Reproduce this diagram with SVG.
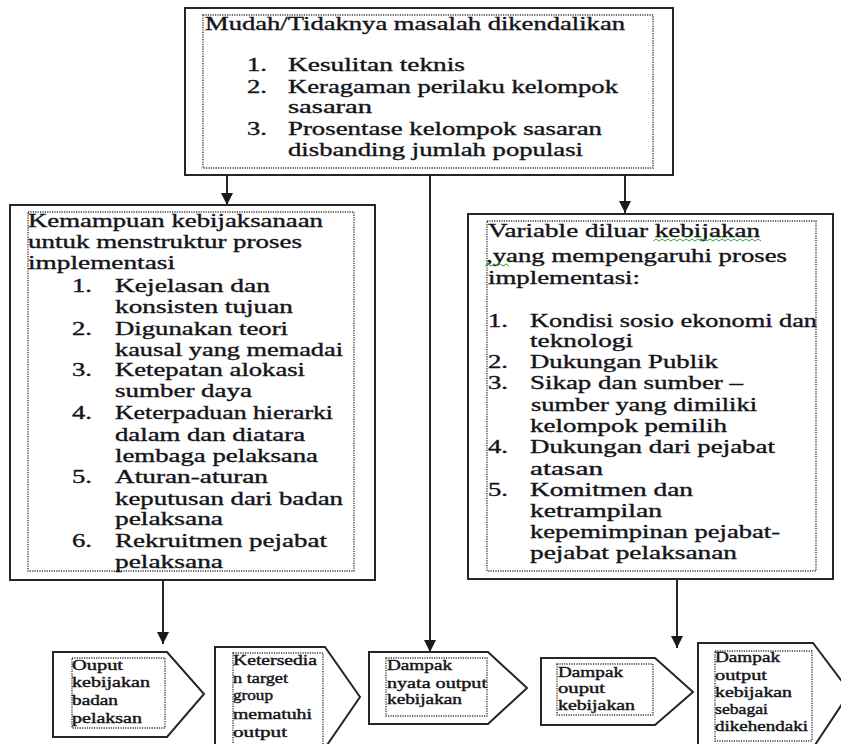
<svg xmlns="http://www.w3.org/2000/svg" width="841" height="744" viewBox="0 0 841 744">
<style>
.box{fill:#fff;stroke:#262626;stroke-width:2}
.dot{fill:none;stroke:#3a3a3a;stroke-width:1.4;stroke-dasharray:1.2 1.2}
.t{font-family:"Liberation Serif","Times New Roman",serif;font-size:18px;fill:#141418;stroke:#141418;stroke-width:0.35}
.s{font-family:"Liberation Serif","Times New Roman",serif;font-size:14px;fill:#141418;stroke:#141418;stroke-width:0.4}
.ln{stroke:#262626;stroke-width:2;fill:none}
.wavy{stroke:#3aa83a;stroke-width:1;fill:none}
</style>
<defs>
<marker id="ah" markerUnits="userSpaceOnUse" markerWidth="13" markerHeight="12" refX="12" refY="6" orient="auto">
<path d="M0,0 L12,6 L0,12 z" fill="#1a1a1a"/>
</marker>
</defs>
<rect width="841" height="744" fill="#fff"/>

<g id="connectors">
<line class="ln" x1="227" y1="175" x2="227" y2="205" marker-end="url(#ah)"/>
<line class="ln" x1="430" y1="175" x2="430" y2="652" stroke-width="2.6" marker-end="url(#ah)"/>
<line class="ln" x1="625" y1="175" x2="625" y2="213" marker-end="url(#ah)"/>
<line class="ln" x1="163" y1="580" x2="163" y2="644" marker-end="url(#ah)"/>
<line class="ln" x1="677" y1="579" x2="677" y2="648" marker-end="url(#ah)"/>
</g>

<g id="node-top">
<rect class="box" x="185" y="8" width="488" height="167"/>
<rect class="dot" x="203" y="15" width="450" height="153"/>
<text class="t" x="205" y="30" textLength="420" lengthAdjust="spacingAndGlyphs">Mudah/Tidaknya masalah dikendalikan</text>
<text class="t" x="247" y="71" textLength="20" lengthAdjust="spacingAndGlyphs">1.</text>
<text class="t" x="288" y="71" textLength="177" lengthAdjust="spacingAndGlyphs">Kesulitan teknis</text>
<text class="t" x="247" y="93" textLength="20" lengthAdjust="spacingAndGlyphs">2.</text>
<text class="t" x="288" y="93" textLength="330" lengthAdjust="spacingAndGlyphs">Keragaman perilaku kelompok</text>
<text class="t" x="288" y="113" textLength="84" lengthAdjust="spacingAndGlyphs">sasaran</text>
<text class="t" x="247" y="135" textLength="20" lengthAdjust="spacingAndGlyphs">3.</text>
<text class="t" x="288" y="135" textLength="314" lengthAdjust="spacingAndGlyphs">Prosentase kelompok sasaran</text>
<text class="t" x="288" y="156" textLength="295" lengthAdjust="spacingAndGlyphs">disbanding jumlah populasi</text>
</g>

<g id="node-left">
<rect class="box" x="10" y="205" width="365" height="375"/>
<rect class="dot" x="28" y="212" width="326" height="359"/>
<text class="t" x="28" y="227" textLength="295" lengthAdjust="spacingAndGlyphs">Kemampuan kebijaksanaan</text>
<text class="t" x="28" y="248" textLength="274" lengthAdjust="spacingAndGlyphs">untuk menstruktur proses</text>
<text class="t" x="28" y="269" textLength="147" lengthAdjust="spacingAndGlyphs">implementasi</text>
<text class="t" x="72" y="292" textLength="20" lengthAdjust="spacingAndGlyphs">1.</text>
<text class="t" x="115" y="292" textLength="155" lengthAdjust="spacingAndGlyphs">Kejelasan dan</text>
<text class="t" x="115" y="313" textLength="178" lengthAdjust="spacingAndGlyphs">konsisten tujuan</text>
<text class="t" x="72" y="335" textLength="20" lengthAdjust="spacingAndGlyphs">2.</text>
<text class="t" x="115" y="335" textLength="173" lengthAdjust="spacingAndGlyphs">Digunakan teori</text>
<text class="t" x="115" y="356" textLength="228" lengthAdjust="spacingAndGlyphs">kausal yang memadai</text>
<text class="t" x="72" y="376" textLength="20" lengthAdjust="spacingAndGlyphs">3.</text>
<text class="t" x="115" y="376" textLength="190" lengthAdjust="spacingAndGlyphs">Ketepatan alokasi</text>
<text class="t" x="115" y="397" textLength="137" lengthAdjust="spacingAndGlyphs">sumber daya</text>
<text class="t" x="72" y="419" textLength="20" lengthAdjust="spacingAndGlyphs">4.</text>
<text class="t" x="115" y="419" textLength="218" lengthAdjust="spacingAndGlyphs">Keterpaduan hierarki</text>
<text class="t" x="115" y="441" textLength="190" lengthAdjust="spacingAndGlyphs">dalam dan diatara</text>
<text class="t" x="115" y="462" textLength="203" lengthAdjust="spacingAndGlyphs">lembaga pelaksana</text>
<text class="t" x="72" y="483" textLength="20" lengthAdjust="spacingAndGlyphs">5.</text>
<text class="t" x="115" y="483" textLength="153" lengthAdjust="spacingAndGlyphs">Aturan-aturan</text>
<text class="t" x="115" y="505" textLength="228" lengthAdjust="spacingAndGlyphs">keputusan dari badan</text>
<text class="t" x="115" y="525" textLength="108" lengthAdjust="spacingAndGlyphs">pelaksana</text>
<text class="t" x="72" y="547" textLength="20" lengthAdjust="spacingAndGlyphs">6.</text>
<text class="t" x="115" y="547" textLength="212" lengthAdjust="spacingAndGlyphs">Rekruitmen pejabat</text>
<text class="t" x="115" y="568" textLength="108" lengthAdjust="spacingAndGlyphs">pelaksana</text>
</g>

<g id="node-right">
<rect class="box" x="468" y="214" width="365" height="365"/>
<rect class="dot" x="487" y="221" width="329" height="350"/>
<text class="t" x="488" y="237" textLength="272" lengthAdjust="spacingAndGlyphs">Variable diluar kebijakan</text>
<path class="wavy" d="M653,241 l3,-2 l3,2 l3,-2 l3,2 l3,-2 l3,2 l3,-2 l3,2 l3,-2 l3,2 l3,-2 l3,2 l3,-2 l3,2 l3,-2 l3,2 l3,-2 l3,2 l3,-2 l3,2 l3,-2 l3,2 l3,-2 l3,2 l3,-2 l3,2 l3,-2 l3,2 l3,-2 l3,2 l3,-2 l3,2 l3,-2 l3,2 l3,-2 l3,2"/>
<text class="t" x="486" y="262" textLength="301" lengthAdjust="spacingAndGlyphs">,yang mempengaruhi proses</text>
<path class="wavy" d="M485,266 l3,-2 l3,2 l3,-2 l3,2 l3,-2 l3,2 l3,-2 l3,2"/>
<text class="t" x="488" y="284" textLength="152" lengthAdjust="spacingAndGlyphs">implementasi:</text>
<text class="t" x="488" y="327" textLength="20" lengthAdjust="spacingAndGlyphs">1.</text>
<text class="t" x="530" y="327" textLength="287" lengthAdjust="spacingAndGlyphs">Kondisi sosio ekonomi dan</text>
<text class="t" x="530" y="347" textLength="103" lengthAdjust="spacingAndGlyphs">teknologi</text>
<text class="t" x="488" y="368" textLength="20" lengthAdjust="spacingAndGlyphs">2.</text>
<text class="t" x="530" y="368" textLength="188" lengthAdjust="spacingAndGlyphs">Dukungan Publik</text>
<text class="t" x="488" y="389" textLength="20" lengthAdjust="spacingAndGlyphs">3.</text>
<text class="t" x="530" y="389" textLength="213" lengthAdjust="spacingAndGlyphs">Sikap dan sumber –</text>
<text class="t" x="531" y="411" textLength="226" lengthAdjust="spacingAndGlyphs">sumber yang dimiliki</text>
<text class="t" x="530" y="432" textLength="197" lengthAdjust="spacingAndGlyphs">kelompok pemilih</text>
<text class="t" x="488" y="453" textLength="20" lengthAdjust="spacingAndGlyphs">4.</text>
<text class="t" x="530" y="453" textLength="245" lengthAdjust="spacingAndGlyphs">Dukungan dari pejabat</text>
<text class="t" x="530" y="475" textLength="73" lengthAdjust="spacingAndGlyphs">atasan</text>
<text class="t" x="488" y="496" textLength="20" lengthAdjust="spacingAndGlyphs">5.</text>
<text class="t" x="530" y="496" textLength="163" lengthAdjust="spacingAndGlyphs">Komitmen dan</text>
<text class="t" x="530" y="517" textLength="132" lengthAdjust="spacingAndGlyphs">ketrampilan</text>
<text class="t" x="530" y="538" textLength="250" lengthAdjust="spacingAndGlyphs">kepemimpinan pejabat-</text>
<text class="t" x="530" y="559" textLength="207" lengthAdjust="spacingAndGlyphs">pejabat pelaksanan</text>
</g>

<g id="node-out1">
<polygon class="box" points="53,652 167,652 204,694 167,737 53,737"/>
<rect class="dot" x="72" y="658" width="93" height="70"/>
<text class="s" x="72" y="670" textLength="51" lengthAdjust="spacingAndGlyphs">Ouput</text>
<text class="s" x="72" y="687" textLength="78" lengthAdjust="spacingAndGlyphs">kebijakan</text>
<text class="s" x="72" y="705" textLength="46" lengthAdjust="spacingAndGlyphs">badan</text>
<text class="s" x="72" y="723" textLength="70" lengthAdjust="spacingAndGlyphs">pelaksan</text>
</g>

<g id="node-out2">
<polygon class="box" points="215,647 325,647 360,697 325,748 215,748"/>
<rect class="dot" x="233" y="653" width="90" height="93"/>
<text class="s" x="233" y="665" textLength="84" lengthAdjust="spacingAndGlyphs">Ketersedia</text>
<text class="s" x="233" y="683" textLength="55" lengthAdjust="spacingAndGlyphs">n target</text>
<text class="s" x="233" y="700" textLength="40" lengthAdjust="spacingAndGlyphs">group</text>
<text class="s" x="233" y="719" textLength="79" lengthAdjust="spacingAndGlyphs">mematuhi</text>
<text class="s" x="233" y="737" textLength="54" lengthAdjust="spacingAndGlyphs">output</text>
</g>

<g id="node-out3">
<polygon class="box" points="369,652 488,652 527,688 488,724 369,724"/>
<rect class="dot" x="386" y="658" width="101" height="58"/>
<text class="s" x="387" y="670" textLength="65" lengthAdjust="spacingAndGlyphs">Dampak</text>
<text class="s" x="387" y="688" textLength="100" lengthAdjust="spacingAndGlyphs">nyata output</text>
<text class="s" x="387" y="704" textLength="75" lengthAdjust="spacingAndGlyphs">kebijakan</text>
</g>

<g id="node-out4">
<polygon class="box" points="541,658 655,658 693,692 655,725 541,725"/>
<rect class="dot" x="557" y="664" width="96" height="51"/>
<text class="s" x="558" y="677" textLength="65" lengthAdjust="spacingAndGlyphs">Dampak</text>
<text class="s" x="558" y="693" textLength="47" lengthAdjust="spacingAndGlyphs">ouput</text>
<text class="s" x="558" y="710" textLength="77" lengthAdjust="spacingAndGlyphs">kebijakan</text>
</g>

<g id="node-out5">
<polygon class="box" points="698,643 813,643 850,692 813,748 698,748"/>
<rect class="dot" x="715" y="651" width="97" height="90"/>
<text class="s" x="715" y="662" textLength="65" lengthAdjust="spacingAndGlyphs">Dampak</text>
<text class="s" x="715" y="680" textLength="52" lengthAdjust="spacingAndGlyphs">output</text>
<text class="s" x="715" y="697" textLength="77" lengthAdjust="spacingAndGlyphs">kebijakan</text>
<text class="s" x="715" y="714" textLength="53" lengthAdjust="spacingAndGlyphs">sebagai</text>
<text class="s" x="715" y="731" textLength="93" lengthAdjust="spacingAndGlyphs">dikehendaki</text>
</g>
</svg>
